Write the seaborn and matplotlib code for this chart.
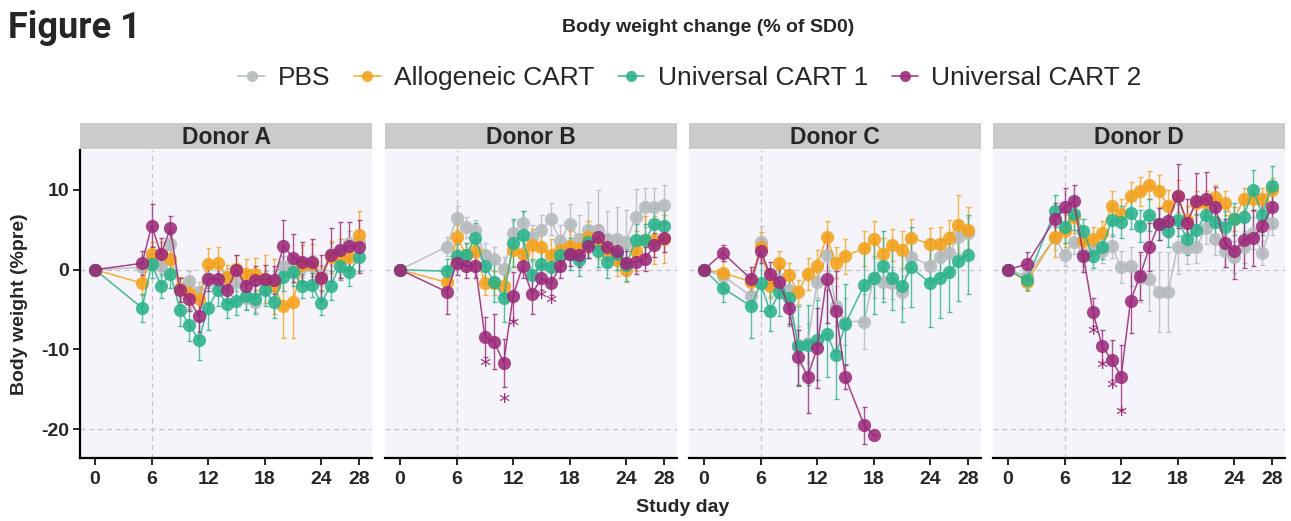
import numpy as np
import pandas as pd
import matplotlib
matplotlib.use('Agg')
import matplotlib.pyplot as plt
from matplotlib.lines import Line2D
import seaborn as sns

nan = np.nan

# 그룹 / 색상
groups = ['PBS', 'Allogeneic CART', 'Universal CART 1', 'Universal CART 2']
colors = ['#b5babd', '#f5a21b', '#2bb38b', '#9c2a7a']
donors = ['Donor A', 'Donor B', 'Donor C', 'Donor D']
x_ticks = [0, 6, 12, 18, 24, 28]
y_ticks = [10, 0, -10, -20]

# Donor A
A_days = [0, 5, 6, 7, 8, 9, 10, 11, 12, 13, 14, 15, 16, 17, 18, 19, 20, 21, 22, 23, 24, 25, 26, 27, 28]
A_pbs = [0, 0.3, 1.5, 0.4, 3.2, -2.3, -1.4, -2.8, -1.0, -1.5, -1.0, -1.5, -3.6, -4.0, -1.5, -1.5, 0.5, 0.5, 0.3, 0.5, -0.7, 2.0, 2.3, 3.3, 3.5]
A_pbs_sd = [0, 1.2, 1.5, 1.2, 1.3, 1.2, 1.2, 1.2, 1.3, 1.3, 1.2, 1.2, 1.3, 1.3, 1.3, 1.3, 1.2, 1.2, 1.2, 1.3, 1.3, 1.4, 1.5, 1.5, 1.6]
A_allo = [0, -1.7, 2.0, 2.0, 1.4, -2.4, -2.9, -3.7, 0.7, 0.9, -0.9, 0.1, -0.5, -0.5, -1.2, -2.1, -4.6, -4.1, 0.6, 0.7, -1.0, 1.6, 1.4, 1.6, 4.4]
A_allo_sd = [0, 1.5, 1.5, 1.5, 1.5, 1.5, 1.8, 1.5, 2.0, 2.0, 1.5, 1.8, 1.8, 2.0, 3.0, 3.5, 4.0, 4.5, 2.5, 2.5, 1.5, 2.0, 2.5, 2.0, 3.0]
A_uc1 = [0, -4.8, 0.7, -2.0, -0.5, -5.0, -6.9, -8.8, -4.8, -2.6, -4.3, -3.9, -3.3, -3.7, -2.6, -4.1, -0.9, -0.3, -2.0, -1.9, -4.2, -2.0, 0.5, -0.3, 1.6]
A_uc1_sd = [0, 1.8, 1.8, 1.5, 1.8, 2.0, 2.0, 2.5, 2.8, 2.0, 1.8, 1.8, 1.8, 1.8, 2.0, 2.0, 1.8, 1.8, 1.5, 1.5, 1.5, 1.8, 1.8, 1.8, 1.8]
A_uc2 = [0, 0.8, 5.5, 2.0, 5.2, -2.5, -3.7, -5.8, -1.2, -1.2, -2.6, 0.0, -2.0, -1.3, -1.2, -1.3, 3.0, 1.5, 1.0, 1.0, -1.1, 1.9, 2.5, 3.0, 2.9]
A_uc2_sd = [0, 1.5, 2.7, 2.0, 1.5, 1.5, 1.5, 2.0, 1.5, 1.5, 1.5, 1.8, 1.8, 1.8, 1.8, 1.8, 3.2, 3.0, 2.5, 2.8, 3.0, 3.3, 3.5, 3.0, 3.3]
A_star_days = []
A_star_y = []

# Donor B
B_days = [0, 5, 6, 7, 8, 9, 10, 11, 12, 13, 14, 15, 16, 17, 18, 19, 20, 21, 22, 23, 24, 25, 26, 27, 28]
B_pbs = [0, 2.9, 6.5, 5.3, 5.0, 1.8, 1.3, 0.1, 4.6, 5.8, 4.1, 5.0, 6.3, 3.6, 5.7, 3.9, 5.0, 5.0, 3.9, 3.9, 3.5, 6.6, 7.8, 7.8, 8.1]
B_pbs_sd = [0, 1.2, 1.5, 1.3, 1.2, 1.5, 1.5, 1.5, 1.5, 1.5, 1.5, 1.8, 2.0, 2.0, 2.5, 3.0, 3.5, 5.0, 3.5, 4.0, 4.0, 3.5, 2.5, 2.5, 2.5]
B_allo = [0, -1.6, 4.1, 1.9, 2.3, -1.7, -1.7, -2.1, 2.5, 2.0, 3.1, 2.9, 1.8, 2.5, 3.0, 2.7, 4.1, 3.3, 2.3, 1.2, 0.0, 2.3, 3.7, 3.7, 3.9]
B_allo_sd = [0, 1.5, 1.5, 1.5, 1.5, 1.5, 1.5, 1.5, 2.0, 2.0, 2.0, 2.0, 2.0, 1.8, 1.8, 1.8, 2.0, 2.0, 2.0, 2.0, 1.5, 2.5, 3.0, 3.0, 3.0]
B_uc1 = [0, -0.2, 1.7, 1.9, 4.0, 0.4, -1.5, -3.5, 3.3, 4.3, -0.7, 0.7, 0.3, 1.8, 2.0, 1.2, 3.5, 2.3, 1.0, 2.0, 0.6, 3.7, 3.7, 5.7, 5.5]
B_uc1_sd = [0, 1.5, 1.5, 1.5, 1.8, 2.0, 2.5, 3.0, 3.0, 3.0, 2.0, 2.0, 2.0, 2.0, 2.0, 2.0, 2.0, 2.0, 2.0, 2.0, 2.0, 2.0, 2.0, 2.0, 2.0]
B_uc2 = [0, -2.8, 0.8, 0.5, 0.5, -8.4, -9.0, -11.7, -3.3, 0.4, -3.0, -1.1, -1.7, 0.4, 2.0, 1.8, 3.0, 4.1, 2.8, 2.3, 0.8, 1.0, 1.3, 3.1, 4.0]
B_uc2_sd = [0, 2.8, 1.5, 1.5, 1.5, 2.5, 3.5, 3.0, 3.0, 1.5, 2.5, 1.5, 1.5, 1.5, 1.5, 1.5, 1.5, 1.5, 1.5, 1.5, 1.5, 1.5, 1.5, 1.5, 1.8]
B_star_days = [9, 11, 12, 15, 16]
B_star_y = [-12.2, -16.7, -7.2, -3.7, -4.3]

# Donor C
C_days = [0, 2, 5, 6, 7, 8, 9, 10, 11, 12, 13, 14, 15, 17, 18, 19, 20, 21, 22, 24, 25, 26, 27, 28]
C_pbs = [0, -0.8, -3.3, 3.5, -1.8, -1.2, -2.5, -9.5, -9.2, -1.5, 1.8, -4.6, -6.5, -6.5, -1.0, -1.6, -1.7, -2.8, 1.6, 0.5, 1.6, 2.1, 4.1, 4.6]
C_pbs_sd = [0, 1.0, 1.5, 2.0, 1.5, 1.5, 2.0, 2.5, 2.5, 2.0, 2.0, 2.5, 3.0, 3.5, 2.5, 2.0, 2.0, 2.0, 2.0, 2.0, 2.0, 2.0, 2.0, 2.0]
C_allo = [0, -0.4, -1.5, 2.9, -2.1, 0.8, -0.7, -2.8, -0.5, 0.5, 4.1, 0.9, 1.7, 2.7, 3.9, 2.0, 3.1, 2.5, 4.0, 3.2, 3.2, 4.0, 5.6, 5.0]
C_allo_sd = [0, 1.5, 1.5, 1.8, 1.5, 1.5, 1.5, 1.5, 2.0, 2.0, 2.0, 2.0, 2.2, 2.2, 2.2, 2.0, 2.0, 2.3, 2.3, 2.0, 2.2, 2.2, 3.8, 2.9]
C_uc1 = [0, -2.3, -4.6, -1.7, -5.2, -2.8, -3.6, -9.6, -9.4, -8.8, -8.0, -10.7, -6.8, -1.9, -1.0, 0.4, -1.0, -2.1, 0.3, -1.7, -1.1, -0.3, 1.1, 1.9]
C_uc1_sd = [0, 1.8, 4.0, 3.5, 2.5, 3.0, 3.5, 5.0, 5.0, 5.0, 5.5, 5.5, 5.0, 4.5, 4.5, 4.5, 4.0, 4.5, 5.0, 5.5, 5.0, 5.0, 5.0, 5.0]
C_uc2 = [0, 2.1, -1.2, 2.3, -0.5, -1.5, -4.8, -11.0, -13.4, -9.8, -1.2, -5.2, -13.5, -19.5, -20.7, nan, nan, nan, nan, nan, nan, nan, nan, nan]
C_uc2_sd = [0, 1.0, 1.5, 1.5, 1.5, 2.0, 2.0, 3.5, 4.5, 5.0, 5.5, 5.0, 1.5, 2.3, 0.0, nan, nan, nan, nan, nan, nan, nan, nan, nan]
C_star_days = []
C_star_y = []

# Donor D
D_days = [0, 2, 5, 6, 7, 8, 9, 10, 11, 12, 13, 14, 15, 16, 17, 18, 19, 20, 21, 22, 23, 24, 25, 26, 27, 28]
D_pbs = [0, -0.8, 4.0, 1.9, 3.5, 2.0, 2.5, 2.3, 3.0, 0.3, 0.4, -1.1, -1.2, -2.8, -2.8, 2.9, 2.7, 2.8, 5.2, 3.9, 2.3, 1.6, 2.9, 4.6, 2.1, 5.9]
D_pbs_sd = [0, 1.0, 1.5, 1.5, 1.5, 1.5, 1.5, 1.5, 1.5, 2.0, 2.5, 3.0, 4.0, 5.0, 5.0, 3.5, 2.0, 2.0, 2.0, 2.0, 2.0, 2.0, 2.0, 2.0, 1.5, 1.5]
D_allo = [0, -1.5, 4.1, 4.8, 6.6, 3.6, 3.9, 4.6, 8.0, 7.0, 9.2, 9.8, 10.6, 9.9, 8.0, 9.2, 6.2, 8.3, 8.3, 9.1, 8.3, 6.3, 8.8, 8.8, 8.8, 10.0]
D_allo_sd = [0, 1.2, 2.5, 2.0, 2.0, 1.5, 1.5, 1.5, 1.8, 1.8, 1.8, 1.8, 1.8, 2.0, 2.0, 2.0, 1.8, 1.5, 1.5, 1.5, 1.5, 1.5, 1.5, 1.5, 1.5, 1.5]
D_uc1 = [0, -1.3, 7.4, 5.4, 7.0, 4.8, 1.7, 2.8, 6.2, 6.0, 7.1, 5.5, 6.9, 5.7, 4.8, 6.2, 3.9, 5.0, 6.9, 6.0, 5.4, 6.3, 6.6, 10.0, 6.9, 10.5]
D_uc1_sd = [0, 1.2, 2.0, 2.0, 2.0, 1.5, 1.5, 1.5, 2.0, 2.0, 2.0, 2.0, 2.0, 2.0, 2.0, 2.0, 2.0, 2.0, 2.0, 2.0, 2.0, 2.0, 2.0, 2.5, 2.5, 2.5]
D_uc2 = [0, 0.7, 6.4, 7.8, 8.6, 1.7, -5.3, -9.6, -11.3, -13.4, -3.9, -0.8, 2.8, 5.7, 6.1, 9.2, 5.9, 8.6, 8.8, 7.9, 3.3, 2.3, 3.7, 4.0, 5.5, 7.8]
D_uc2_sd = [0, 1.5, 2.0, 2.5, 2.0, 2.0, 1.8, 2.0, 2.5, 4.0, 4.0, 3.0, 3.0, 2.0, 2.0, 4.0, 3.0, 3.5, 3.5, 2.5, 3.0, 3.5, 3.5, 3.5, 3.5, 2.5]
D_star_days = [9, 10, 11, 12]
D_star_y = [-8.2, -12.4, -14.9, -18.3]

# long-format 데이터프레임
donor_data = {
    'Donor A': (A_days, [(A_pbs, A_pbs_sd), (A_allo, A_allo_sd), (A_uc1, A_uc1_sd), (A_uc2, A_uc2_sd)], A_star_days, A_star_y),
    'Donor B': (B_days, [(B_pbs, B_pbs_sd), (B_allo, B_allo_sd), (B_uc1, B_uc1_sd), (B_uc2, B_uc2_sd)], B_star_days, B_star_y),
    'Donor C': (C_days, [(C_pbs, C_pbs_sd), (C_allo, C_allo_sd), (C_uc1, C_uc1_sd), (C_uc2, C_uc2_sd)], C_star_days, C_star_y),
    'Donor D': (D_days, [(D_pbs, D_pbs_sd), (D_allo, D_allo_sd), (D_uc1, D_uc1_sd), (D_uc2, D_uc2_sd)], D_star_days, D_star_y),
}
frames = []
for donor, (days, series, _, _) in donor_data.items():
    for g, (m, sd) in zip(groups, series):
        frames.append(pd.DataFrame({'donor': donor, 'group': g, 'day': days, 'bw': m, 'sd': sd}))
df = pd.concat(frames, ignore_index=True).dropna(subset=['bw'])

sns.set_theme(style='white')
plt.rcParams['font.family'] = ['Liberation Sans', 'DejaVu Sans']
plt.rcParams['axes.unicode_minus'] = False
palette = dict(zip(groups, colors))

fig = plt.figure(figsize=(12.91, 5.21), dpi=100)
W, H = 1291, 521
lefts = [80, 385, 689, 993]
pw = 292
top_px, bot_px = 150, 458

for i, donor in enumerate(donors):
    ax = fig.add_axes([lefts[i] / W, 1 - bot_px / H, pw / W, (bot_px - top_px) / H])
    ax.set_facecolor('#f4f4fa')
    sub = df[df['donor'] == donor]
    ax.axhline(0, color='#c4c4c8', ls=(0, (4, 3)), lw=0.9, zorder=0)
    ax.axhline(-20, color='#c4c4c8', ls=(0, (4, 3)), lw=0.9, zorder=0)
    ax.axvline(6, color='#c4c4c8', ls=(0, (4, 3)), lw=0.9, zorder=0)
    for g in groups:
        s = sub[sub['group'] == g]
        ax.errorbar(s['day'], s['bw'], yerr=s['sd'], fmt='none', ecolor=palette[g],
                    elinewidth=1.0, capsize=1.8, capthick=1.0, alpha=0.8, zorder=2)
    sns.lineplot(data=sub, x='day', y='bw', hue='group', hue_order=groups, palette=palette,
                 marker='o', markersize=9.5, markeredgewidth=0, linewidth=1.1, alpha=0.88,
                 estimator=None, sort=True, legend=False, ax=ax, zorder=3)
    _, _, sdays, sy = donor_data[donor]
    for d, yv in zip(sdays, sy):
        ax.text(d, yv, '*', color=colors[3], fontsize=16, ha='center', va='center',
                family='DejaVu Sans', zorder=4)

    ax.set_xlim(-1.6, 29.4)
    ax.set_ylim(-23.6, 15)
    ax.set_xticks(x_ticks)
    ax.set_yticks(y_ticks)
    ax.set_xlabel('')
    ax.set_ylabel('')
    for sp in ['top', 'right']:
        ax.spines[sp].set_visible(False)
    ax.spines['bottom'].set_linewidth(1.6)
    ax.spines['bottom'].set_color('black')
    if i == 0:
        ax.spines['left'].set_linewidth(1.6)
        ax.spines['left'].set_color('black')
        ax.tick_params(axis='y', length=5, width=1.4, labelsize=14, pad=3, left=True)
    else:
        ax.spines['left'].set_visible(False)
        ax.tick_params(axis='y', left=False, labelleft=False)
    ax.tick_params(axis='x', length=5, width=1.4, labelsize=14, pad=4, bottom=True)
    for lab in ax.get_xticklabels() + ax.get_yticklabels():
        lab.set_fontweight('bold')

    # 스트립 (패싯 제목)
    sax = fig.add_axes([lefts[i] / W, 1 - 149 / H, pw / W, 26 / H])
    sax.set_facecolor('#cbcbcb')
    sax.set_xticks([])
    sax.set_yticks([])
    for sp in sax.spines.values():
        sp.set_visible(False)
    sax.text(0.5, 0.45, donor, ha='center', va='center', fontsize=16.5, fontweight='bold',
             transform=sax.transAxes)

fig.text(8 / W, 1 - 28 / H, 'Figure 1', fontsize=26, fontweight='bold', ha='left', va='center',
         family=['Roboto', 'DejaVu Sans'])
fig.text(708 / W, 1 - 27 / H, 'Body weight change (% of SD0)', fontsize=14, fontweight='bold',
         ha='center', va='center')
fig.text(20 / W, 1 - 304 / H, 'Body weight (%pre)', fontsize=14, fontweight='bold',
         rotation=90, ha='center', va='center')
fig.text(683 / W, 1 - 508 / H, 'Study day', fontsize=14, fontweight='bold', ha='center', va='center')

handles = [Line2D([0], [0], color=c, marker='o', markersize=8, markeredgewidth=0, lw=1.2, alpha=0.9)
           for c in colors]
fig.legend(handles, groups, loc='center', bbox_to_anchor=(690 / W, 1 - 78 / H), ncol=4,
           frameon=False, fontsize=19, handlelength=1.0, handletextpad=0.5, columnspacing=0.9)

plt.savefig('out.png', dpi=100)
